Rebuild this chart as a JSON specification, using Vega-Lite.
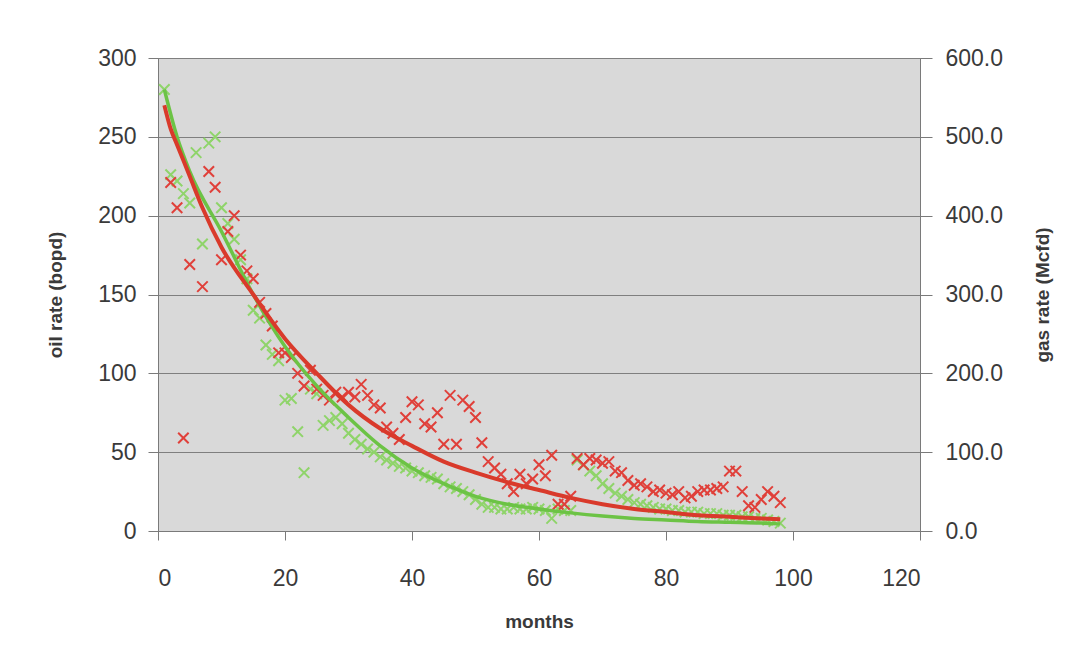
{
  "$schema": "https://vega.github.io/schema/vega-lite/v6.json",
  "width": 762,
  "height": 473,
  "autosize": "none",
  "padding": {"left": 158, "top": 58, "right": 167, "bottom": 134},
  "background": "white",
  "config": {
    "view": {"fill": "#d9d9d9", "stroke": "#808080", "strokeWidth": 1},
    "font": "Liberation Sans",
    "axis": {"labelFont": "Liberation Sans", "titleFont": "Liberation Sans", "labelFontSize": 23, "labelColor": "#3a3a3a", "titleFontSize": 19, "titleFontWeight": "bold", "titleColor": "#3a3a3a", "domainColor": "#7a7a7a", "tickColor": "#7a7a7a"}
  },
  "datasets": {
    "oilpts": [
      {"month": 2, "oil": 221}, {"month": 3, "oil": 205}, {"month": 4, "oil": 59}, {"month": 5, "oil": 169}, {"month": 7, "oil": 155}, {"month": 8, "oil": 228}, {"month": 9, "oil": 218}, {"month": 10, "oil": 172}, {"month": 11, "oil": 190}, {"month": 12, "oil": 200}, {"month": 13, "oil": 175}, {"month": 14, "oil": 165}, {"month": 15, "oil": 160}, {"month": 16, "oil": 145}, {"month": 17, "oil": 138}, {"month": 18, "oil": 130}, {"month": 19, "oil": 113}, {"month": 20, "oil": 113}, {"month": 21, "oil": 110}, {"month": 22, "oil": 100}, {"month": 23, "oil": 92}, {"month": 24, "oil": 102}, {"month": 25, "oil": 90}, {"month": 26, "oil": 86}, {"month": 27, "oil": 83}, {"month": 28, "oil": 88}, {"month": 29, "oil": 85}, {"month": 30, "oil": 88}, {"month": 31, "oil": 85}, {"month": 32, "oil": 93}, {"month": 33, "oil": 86}, {"month": 34, "oil": 80}, {"month": 35, "oil": 78}, {"month": 36, "oil": 66}, {"month": 37, "oil": 62}, {"month": 38, "oil": 58}, {"month": 39, "oil": 72}, {"month": 40, "oil": 82}, {"month": 41, "oil": 80}, {"month": 42, "oil": 68}, {"month": 43, "oil": 66}, {"month": 44, "oil": 75}, {"month": 45, "oil": 55}, {"month": 46, "oil": 86}, {"month": 47, "oil": 55}, {"month": 48, "oil": 83}, {"month": 49, "oil": 79}, {"month": 50, "oil": 72}, {"month": 51, "oil": 56}, {"month": 52, "oil": 44}, {"month": 53, "oil": 40}, {"month": 54, "oil": 36}, {"month": 55, "oil": 30}, {"month": 56, "oil": 25}, {"month": 57, "oil": 36}, {"month": 58, "oil": 30}, {"month": 59, "oil": 33}, {"month": 60, "oil": 42}, {"month": 61, "oil": 35}, {"month": 62, "oil": 48}, {"month": 63, "oil": 17}, {"month": 64, "oil": 17}, {"month": 65, "oil": 22}, {"month": 66, "oil": 46}, {"month": 67, "oil": 42}, {"month": 68, "oil": 46}, {"month": 69, "oil": 45}, {"month": 70, "oil": 43}, {"month": 71, "oil": 44}, {"month": 72, "oil": 38}, {"month": 73, "oil": 37}, {"month": 74, "oil": 32}, {"month": 75, "oil": 29}, {"month": 76, "oil": 30}, {"month": 77, "oil": 28}, {"month": 78, "oil": 25}, {"month": 79, "oil": 26}, {"month": 80, "oil": 24}, {"month": 81, "oil": 23}, {"month": 82, "oil": 25}, {"month": 83, "oil": 21}, {"month": 84, "oil": 22}, {"month": 85, "oil": 25}, {"month": 86, "oil": 26}, {"month": 87, "oil": 26}, {"month": 88, "oil": 27}, {"month": 89, "oil": 28}, {"month": 90, "oil": 38}, {"month": 91, "oil": 38}, {"month": 92, "oil": 25}, {"month": 93, "oil": 16}, {"month": 94, "oil": 15}, {"month": 95, "oil": 20}, {"month": 96, "oil": 25}, {"month": 97, "oil": 22}, {"month": 98, "oil": 18}
    ],
    "gaspts": [
      {"month": 1, "gas": 560}, {"month": 2, "gas": 452}, {"month": 3, "gas": 444}, {"month": 4, "gas": 428}, {"month": 5, "gas": 416}, {"month": 6, "gas": 480}, {"month": 7, "gas": 364}, {"month": 8, "gas": 492}, {"month": 9, "gas": 500}, {"month": 10, "gas": 410}, {"month": 11, "gas": 390}, {"month": 12, "gas": 370}, {"month": 13, "gas": 344}, {"month": 14, "gas": 320}, {"month": 15, "gas": 280}, {"month": 16, "gas": 270}, {"month": 17, "gas": 236}, {"month": 18, "gas": 224}, {"month": 19, "gas": 216}, {"month": 20, "gas": 166}, {"month": 21, "gas": 168}, {"month": 22, "gas": 126}, {"month": 23, "gas": 74}, {"month": 24, "gas": 180}, {"month": 25, "gas": 174}, {"month": 26, "gas": 134}, {"month": 27, "gas": 140}, {"month": 28, "gas": 144}, {"month": 29, "gas": 136}, {"month": 30, "gas": 124}, {"month": 31, "gas": 116}, {"month": 32, "gas": 110}, {"month": 33, "gas": 104}, {"month": 34, "gas": 100}, {"month": 35, "gas": 94}, {"month": 36, "gas": 90}, {"month": 37, "gas": 86}, {"month": 38, "gas": 82}, {"month": 39, "gas": 80}, {"month": 40, "gas": 76}, {"month": 41, "gas": 74}, {"month": 42, "gas": 70}, {"month": 43, "gas": 68}, {"month": 44, "gas": 66}, {"month": 45, "gas": 60}, {"month": 46, "gas": 56}, {"month": 47, "gas": 54}, {"month": 48, "gas": 50}, {"month": 49, "gas": 46}, {"month": 50, "gas": 40}, {"month": 51, "gas": 34}, {"month": 52, "gas": 30}, {"month": 53, "gas": 30}, {"month": 54, "gas": 28}, {"month": 55, "gas": 28}, {"month": 56, "gas": 30}, {"month": 57, "gas": 28}, {"month": 58, "gas": 28}, {"month": 59, "gas": 30}, {"month": 60, "gas": 28}, {"month": 61, "gas": 26}, {"month": 62, "gas": 16}, {"month": 63, "gas": 28}, {"month": 64, "gas": 26}, {"month": 65, "gas": 26}, {"month": 66, "gas": 90}, {"month": 67, "gas": 84}, {"month": 68, "gas": 76}, {"month": 69, "gas": 70}, {"month": 70, "gas": 60}, {"month": 71, "gas": 54}, {"month": 72, "gas": 48}, {"month": 73, "gas": 44}, {"month": 74, "gas": 40}, {"month": 75, "gas": 36}, {"month": 76, "gas": 34}, {"month": 77, "gas": 32}, {"month": 78, "gas": 30}, {"month": 79, "gas": 28}, {"month": 80, "gas": 28}, {"month": 81, "gas": 26}, {"month": 82, "gas": 26}, {"month": 83, "gas": 24}, {"month": 84, "gas": 24}, {"month": 85, "gas": 24}, {"month": 86, "gas": 22}, {"month": 87, "gas": 22}, {"month": 88, "gas": 22}, {"month": 89, "gas": 20}, {"month": 90, "gas": 20}, {"month": 91, "gas": 20}, {"month": 92, "gas": 18}, {"month": 93, "gas": 18}, {"month": 94, "gas": 16}, {"month": 95, "gas": 16}, {"month": 96, "gas": 14}, {"month": 97, "gas": 12}, {"month": 98, "gas": 10}
    ],
    "oilfit": [
      {"month": 1, "oil": 270}, {"month": 2, "oil": 255}, {"month": 3, "oil": 245}, {"month": 5, "oil": 225}, {"month": 7, "oil": 205}, {"month": 10, "oil": 180}, {"month": 15, "oil": 150}, {"month": 20, "oil": 122}, {"month": 25, "oil": 100}, {"month": 30, "oil": 80}, {"month": 35, "oil": 65}, {"month": 40, "oil": 54}, {"month": 45, "oil": 44}, {"month": 50, "oil": 37}, {"month": 55, "oil": 31}, {"month": 60, "oil": 26}, {"month": 65, "oil": 21}, {"month": 70, "oil": 17}, {"month": 75, "oil": 14}, {"month": 80, "oil": 12}, {"month": 85, "oil": 10}, {"month": 90, "oil": 9}, {"month": 95, "oil": 8}, {"month": 98, "oil": 7.5}
    ],
    "gasfit": [
      {"month": 1, "gas": 560}, {"month": 3, "gas": 500}, {"month": 5, "gas": 456}, {"month": 10, "gas": 380}, {"month": 15, "gas": 300}, {"month": 20, "gas": 234}, {"month": 25, "gas": 184}, {"month": 30, "gas": 144}, {"month": 35, "gas": 108}, {"month": 40, "gas": 80}, {"month": 45, "gas": 60}, {"month": 50, "gas": 44}, {"month": 55, "gas": 34}, {"month": 60, "gas": 28}, {"month": 65, "gas": 23}, {"month": 70, "gas": 19}, {"month": 75, "gas": 16}, {"month": 80, "gas": 14}, {"month": 85, "gas": 12}, {"month": 90, "gas": 11}, {"month": 95, "gas": 10}, {"month": 98, "gas": 9}
    ]
  },
  "encoding": {
    "x": {"field": "month", "type": "quantitative", "scale": {"domain": [0, 120], "nice": false}, "axis": {"values": [0, 20, 40, 60, 80, 100, 120], "grid": false, "tickSize": 9, "labelPadding": 27, "title": "months", "titlePadding": 22}}
  },
  "layer": [
    {
      "data": {"name": "gaspts"},
      "mark": {"type": "point", "shape": "M-1,-1L1,1M-1,1L1,-1", "filled": false, "stroke": "#8fd46a", "strokeWidth": 2, "size": 110, "opacity": 1},
      "encoding": {"y": {"field": "gas", "type": "quantitative", "scale": {"domain": [0, 600], "nice": false}, "axis": {"orient": "right", "values": [0, 100, 200, 300, 400, 500, 600], "format": ".1f", "grid": false, "tickSize": 12, "labelPadding": 13, "title": "gas rate (Mcfd)", "titleAngle": 270, "titlePadding": 50}}}
    },
    {
      "data": {"name": "oilpts"},
      "mark": {"type": "point", "shape": "M-1,-1L1,1M-1,1L1,-1", "filled": false, "stroke": "#e0403a", "strokeWidth": 2, "size": 110, "opacity": 1},
      "encoding": {"y": {"field": "oil", "type": "quantitative", "scale": {"domain": [0, 300], "nice": false}, "axis": {"orient": "left", "values": [0, 50, 100, 150, 200, 250, 300], "grid": true, "gridColor": "#7f7f7f", "gridWidth": 1, "gridOpacity": 1, "tickSize": 10, "labelPadding": 12, "title": "oil rate (bopd)", "titlePadding": 32}}}
    },
    {
      "data": {"name": "gasfit"},
      "mark": {"type": "line", "color": "#6cc345", "strokeWidth": 3.5, "interpolate": "monotone"},
      "encoding": {"y": {"field": "gas", "type": "quantitative", "scale": {"domain": [0, 600], "nice": false}, "axis": null}}
    },
    {
      "data": {"name": "oilfit"},
      "mark": {"type": "line", "color": "#d93a2b", "strokeWidth": 4, "interpolate": "monotone"},
      "encoding": {"y": {"field": "oil", "type": "quantitative", "scale": {"domain": [0, 300], "nice": false}, "axis": null}}
    }
  ],
  "resolve": {"scale": {"y": "independent"}}
}
